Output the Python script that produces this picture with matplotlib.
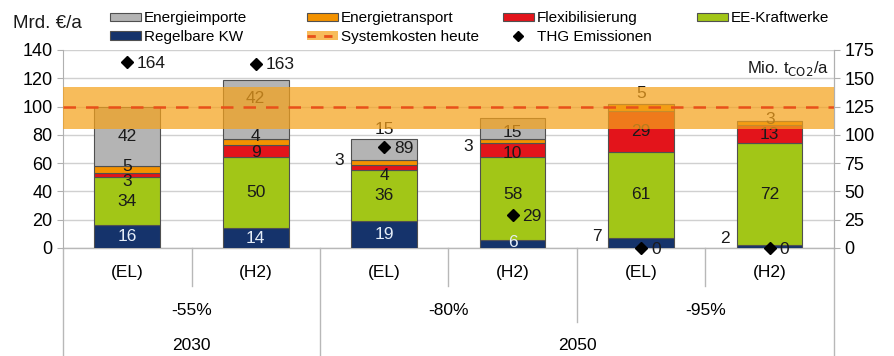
import matplotlib.pyplot as plt
from matplotlib.patches import Patch
from matplotlib.lines import Line2D

plt.rcParams['font.family'] = ['Liberation Sans', 'DejaVu Sans']

# Kosten je Szenario (Mrd. EUR/a)
szenarien = ['(EL)', '(H2)', '(EL)', '(H2)', '(EL)', '(H2)']
ziele = ['-55%', '-80%', '-95%']
jahre = ['2030', '2050']
regelbare_kw = [16, 14, 19, 6, 7, 2]
ee_kraftwerke = [34, 50, 36, 58, 61, 72]
flexibilisierung = [3, 9, 4, 10, 29, 13]
energietransport = [5, 4, 3, 3, 5, 3]
energieimporte = [42, 42, 15, 15, 0, 0]
thg_emissionen = [164, 163, 89, 29, 0, 0]   # Mio. t CO2/a
systemkosten_heute = 100
systemkosten_band = (84, 114)

schichten = [
    ('Regelbare KW', regelbare_kw, '#15336b'),
    ('EE-Kraftwerke', ee_kraftwerke, '#a2c617'),
    ('Flexibilisierung', flexibilisierung, '#e3141b'),
    ('Energietransport', energietransport, '#f39200'),
    ('Energieimporte', energieimporte, '#b4b4b4'),
]

# Beschriftungen, die nicht mittig im Segment stehen: (balken, schicht) -> (y, aussen links)
label_lage = {
    (0, 2): (47, False), (0, 3): (57.5, False),
    (1, 2): (67.5, False), (1, 3): (78.5, False), (1, 4): (106, False),
    (2, 2): (51.5, False), (2, 3): (62, True), (2, 4): (83.5, False),
    (3, 0): (4, False), (3, 1): (37.5, False), (3, 2): (67, False),
    (3, 3): (71.5, True), (3, 4): (82, False),
    (4, 0): (8, True), (4, 3): (109.5, False),
    (5, 0): (7, True), (5, 3): (91, False),
}

fig = plt.figure(figsize=(8.95, 3.56), dpi=100)
ax = fig.add_axes([0.0704, 0.3034, 0.8614, 0.5562])
x = list(range(len(szenarien)))
breite = 0.51

unten = [0] * len(x)
for k, (name, werte, farbe) in enumerate(schichten):
    ax.bar(x, werte, breite, bottom=unten, color=farbe, edgecolor='#505050',
           linewidth=0.8, zorder=3)
    for i, w in enumerate(werte):
        if w == 0:
            continue
        y, aussen = label_lage.get((i, k), (unten[i] + w / 2, False))
        farbe_txt = '#e6eef8' if k == 0 else '#1a1a1a'
        if aussen:
            ax.text(i - 0.31, y, str(w), ha='right', va='center', fontsize=12.5,
                    color='#1a1a1a', zorder=4)
        else:
            ax.text(i, y, str(w), ha='center', va='center', fontsize=12.5,
                    color=farbe_txt, zorder=4)
    unten = [u + w for u, w in zip(unten, werte)]

# Systemkosten heute als Band mit gestrichelter Linie
ax.axhspan(*systemkosten_band, color='#f5a21c', alpha=0.72, lw=0, zorder=5)
ax.axhline(systemkosten_heute, color='#e8501a', ls=(0, (5, 4)), lw=1.8, zorder=6)

ax.set_xlim(-0.5, 5.5)
ax.set_ylim(0, 140)
ax.set_yticks(range(0, 141, 20))
ax.grid(axis='y', color='#d0d0d0', lw=1, zorder=0)
ax.set_xticks([])
for s in ['top', 'bottom']:
    ax.spines[s].set_visible(False)
ax.spines['left'].set_color('#b0b0b0')
ax.spines['right'].set_color('#b0b0b0')
ax.tick_params(axis='y', labelsize=13, color='#b0b0b0', length=4)

ax2 = ax.twinx()
ax2.set_ylim(0, 175)
ax2.set_yticks(range(0, 176, 25))
ax2.tick_params(axis='y', labelsize=13, color='#b0b0b0', length=4)
for s in ['top', 'bottom', 'left']:
    ax2.spines[s].set_visible(False)
ax2.spines['right'].set_color('#b0b0b0')
ax2.plot(x, thg_emissionen, 'D', color='black', ms=6.5, ls='none', zorder=7,
         clip_on=False)
for i, e in enumerate(thg_emissionen):
    ax2.annotate(str(e), (i, e), xytext=(7, -1), textcoords='offset points',
                 ha='left', va='center', fontsize=12.5, color='#1a1a1a')

ax.text(0.993, 0.955, 'Mio. t$_{\\mathrm{CO2}}$/a', transform=ax.transAxes,
        ha='right', va='top', fontsize=12, color='#1a1a1a')
fig.text(0.015, 0.935, 'Mrd. €/a', ha='left', va='center', fontsize=13.5,
         color='#1a1a1a')

# Mehrstufige Kategorienachse
tr = ax.get_xaxis_transform()
lc = '#b8b8b8'
for i, s in enumerate(szenarien):
    ax.text(i, -0.125, s, transform=tr, ha='center', va='center', fontsize=12.5)
for j, z in enumerate(ziele):
    ax.text(2 * j + 0.5, -0.315, z, transform=tr, ha='center', va='center',
            fontsize=12.5)
ax.text(0.5, -0.49, jahre[0], transform=tr, ha='center', va='center', fontsize=12.5)
ax.text(3.5, -0.49, jahre[1], transform=tr, ha='center', va='center', fontsize=12.5)
ax.plot([-0.5, 5.5], [0, 0], transform=tr, color=lc, lw=1, clip_on=False)
for xs in [0.5, 2.5, 4.5]:
    ax.plot([xs, xs], [0, -0.19], transform=tr, color=lc, lw=1, clip_on=False)
ax.plot([3.5, 3.5], [0, -0.375], transform=tr, color=lc, lw=1, clip_on=False)
for xs in [-0.5, 1.5, 5.5]:
    ax.plot([xs, xs], [0, -0.56], transform=tr, color=lc, lw=1, clip_on=False)

# Legende in vier Spalten
farben = {n: f for n, _, f in schichten}
def kasten(name):
    return Patch(facecolor=farben[name], edgecolor='#505050', lw=0.8, label=name)
band = (Patch(facecolor='#f5a21c', alpha=0.72, lw=0),
        Line2D([], [], color='#e8501a', ls=(0, (3, 3)), lw=2))
raute = Line2D([], [], marker='D', color='black', ls='none', ms=5)
spalten = [
    (0.123, [kasten('Energieimporte'), kasten('Regelbare KW')],
     ['Energieimporte', 'Regelbare KW']),
    (0.343, [kasten('Energietransport'), band],
     ['Energietransport', 'Systemkosten heute']),
    (0.562, [kasten('Flexibilisierung'), raute],
     ['Flexibilisierung', 'THG Emissionen']),
    (0.779, [kasten('EE-Kraftwerke')], ['EE-Kraftwerke']),
]
for xpos, h, l in spalten:
    fig.legend(h, l, loc='upper left', bbox_to_anchor=(xpos, 0.968), frameon=False,
               fontsize=11, handlelength=2.0, handleheight=0.5,
               handletextpad=0.2, labelspacing=0.3, borderpad=0,
               borderaxespad=0)

fig.savefig('out.png', dpi=100)
